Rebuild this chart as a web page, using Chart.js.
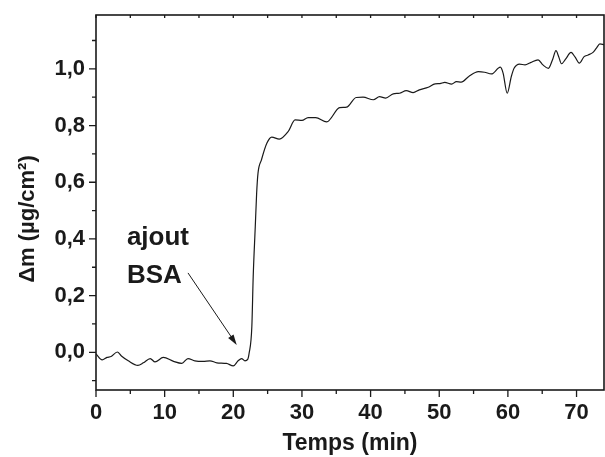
<!DOCTYPE html>
<html>
<head>
<meta charset="utf-8">
<script src="https://cdn.jsdelivr.net/npm/chart.js@4/dist/chart.umd.min.js"></script>
<style>
  body { margin: 0; background: #fff; }
  canvas { display: block; }
</style>
</head>
<body>
<canvas id="chart1" width="605" height="457"></canvas>
<script>
// values
const temps = [0, 0.9, 1.6, 2.2, 3.1, 3.7, 4.7, 6.1, 6.9, 7.9, 8.6, 9.8, 11.3, 12.5, 13.4, 14.4, 15.6, 16.6, 17.6, 19.0,
  20.0, 20.7, 21.2, 21.7, 22.1, 22.3, 22.7, 22.9, 23.2, 23.4, 23.6, 24.1, 24.9, 25.6, 26.7, 28.0, 29.0, 30.0, 30.9, 32.0,
  33.6, 35.5, 36.5, 37.9, 38.9, 40.4, 41.3, 42.2, 43.3, 44.2, 45.2, 46.2, 47.1, 48.4, 49.4, 50.1, 50.8, 51.8, 52.5, 53.2,
  54.3, 55.7, 56.6, 57.6, 58.9, 59.3, 59.9, 60.5, 60.9, 61.7, 62.5, 63.3, 64.4, 65.1, 65.9, 66.5, 67.0, 67.4, 67.8, 68.4,
  69.2, 69.8, 70.4, 71.1, 71.7, 72.4, 72.9, 73.4, 74.0];
const deltaM = [-0.006, -0.027, -0.018, -0.015, 0.001, -0.013, -0.030, -0.046, -0.037, -0.022, -0.034, -0.018, -0.032, -0.039, -0.022, -0.030, -0.032, -0.030, -0.037, -0.039,
  -0.048, -0.030, -0.022, -0.030, -0.025, -0.004, 0.09, 0.267, 0.443, 0.561, 0.632, 0.679, 0.738, 0.759, 0.752, 0.779, 0.820, 0.818, 0.828, 0.828,
  0.813, 0.863, 0.865, 0.899, 0.900, 0.891, 0.902, 0.897, 0.912, 0.914, 0.923, 0.916, 0.926, 0.935, 0.947, 0.948, 0.952, 0.946, 0.955, 0.953,
  0.973, 0.990, 0.988, 0.982, 1.006, 0.985, 0.914, 0.973, 1.002, 1.017, 1.014, 1.022, 1.032, 1.014, 1.002, 1.032, 1.064, 1.043, 1.018, 1.034,
  1.058, 1.041, 1.020, 1.043, 1.049, 1.058, 1.073, 1.088, 1.085];
const xTicks = [0, 10, 20, 30, 40, 50, 60, 70];
const yTicks = [0, 0.2, 0.4, 0.6, 0.8, 1.0];

const FONT = "'Liberation Sans', Arial, sans-serif";
const INK = '#1a1a1a';

// annotation "ajout BSA" with arrow, in data units
const note = { lines: ['ajout', 'BSA'], x: 4.5, y: [0.379, 0.245] };
const arrow = { from: [13.4, 0.28], to: [20.5, 0.026] };

const frame = {
  id: 'frame',
  afterDraw(chart) {
    const { ctx, chartArea: a, scales: { x, y } } = chart;
    ctx.save();
    ctx.strokeStyle = INK;
    ctx.lineWidth = 1.6;
    ctx.strokeRect(a.left, a.top, a.right - a.left, a.bottom - a.top);
    ctx.lineWidth = 1.3;
    ctx.beginPath();
    // bottom ticks, outward
    for (let v = 0; v <= 74; v += 5) {
      const px = x.getPixelForValue(v);
      const len = v % 10 === 0 ? 7 : 4;
      ctx.moveTo(px, a.bottom); ctx.lineTo(px, a.bottom + len);
      // top ticks, inward
      ctx.moveTo(px, a.top); ctx.lineTo(px, a.top + 3);
    }
    // left ticks, outward
    for (let i = -1; i <= 11; i++) {
      const v = i / 10;
      const py = y.getPixelForValue(v);
      const len = i % 2 === 0 ? 7 : 4;
      ctx.moveTo(a.left, py); ctx.lineTo(a.left - len, py);
    }
    ctx.stroke();

    // y axis title
    ctx.fillStyle = INK;
    ctx.font = 'bold 22px ' + FONT;
    ctx.textAlign = 'center';
    ctx.textBaseline = 'middle';
    ctx.translate(28, 219);
    ctx.rotate(-Math.PI / 2);
    ctx.fillText('\u0394m (\u00b5g/cm\u00b2)', 0, 0);
    ctx.restore();

    // annotation
    ctx.save();
    ctx.fillStyle = INK;
    ctx.font = 'bold 26px ' + FONT;
    ctx.textAlign = 'left';
    ctx.textBaseline = 'alphabetic';
    note.lines.forEach((t, i) => {
      ctx.fillText(t, x.getPixelForValue(note.x), y.getPixelForValue(note.y[i]));
    });
    const x0 = x.getPixelForValue(arrow.from[0]), y0 = y.getPixelForValue(arrow.from[1]);
    const x1 = x.getPixelForValue(arrow.to[0]), y1 = y.getPixelForValue(arrow.to[1]);
    const ang = Math.atan2(y1 - y0, x1 - x0);
    ctx.strokeStyle = INK;
    ctx.lineWidth = 1;
    ctx.beginPath();
    ctx.moveTo(x0, y0);
    ctx.lineTo(x1 - 8 * Math.cos(ang), y1 - 8 * Math.sin(ang));
    ctx.stroke();
    ctx.beginPath();
    ctx.moveTo(x1, y1);
    ctx.lineTo(x1 - 11 * Math.cos(ang - 0.3), y1 - 11 * Math.sin(ang - 0.3));
    ctx.lineTo(x1 - 11 * Math.cos(ang + 0.3), y1 - 11 * Math.sin(ang + 0.3));
    ctx.closePath();
    ctx.fill();
    ctx.restore();
  }
};

const chart1 = new Chart(document.getElementById('chart1'), {
  type: 'line',
  data: {
    datasets: [{
      data: temps.map((t, i) => ({ x: t, y: deltaM[i] })),
      borderColor: INK,
      borderWidth: 1.2,
      pointRadius: 0,
      fill: false,
      tension: 0.4,
      cubicInterpolationMode: 'monotone'
    }]
  },
  options: {
    responsive: false,
    animation: false,
    layout: { padding: { top: 15, right: 1, left: 0, bottom: 0 } },
    plugins: { legend: { display: false }, tooltip: { enabled: false } },
    scales: {
      x: {
        type: 'linear',
        min: 0,
        max: 74,
        afterBuildTicks: s => { s.ticks = xTicks.map(v => ({ value: v })); },
        afterFit: s => { s.height = 67; s.paddingLeft = 0; s.paddingRight = 0; },
        grid: { drawOnChartArea: false, drawTicks: false },
        border: { display: false },
        ticks: {
          padding: 10,
          color: INK,
          maxRotation: 0,
          font: { family: FONT, size: 22, weight: 'bold' }
        },
        title: {
          display: true,
          text: 'Temps (min)',
          color: INK,
          padding: { top: 0, bottom: 0 },
          font: { family: FONT, size: 23, weight: 'bold' }
        }
      },
      y: {
        min: -0.133,
        max: 1.19,
        afterBuildTicks: s => { s.ticks = yTicks.map(v => ({ value: v })); },
        afterFit: s => { s.width = 96; s.paddingTop = 0; s.paddingBottom = 0; },
        grid: { drawOnChartArea: false, drawTicks: false },
        border: { display: false },
        ticks: {
          padding: 11,
          color: INK,
          font: { family: FONT, size: 22, weight: 'bold' },
          callback: v => v.toFixed(1).replace('.', ',')
        }
      }
    }
  },
  plugins: [frame]
});
</script>
</body>
</html>
